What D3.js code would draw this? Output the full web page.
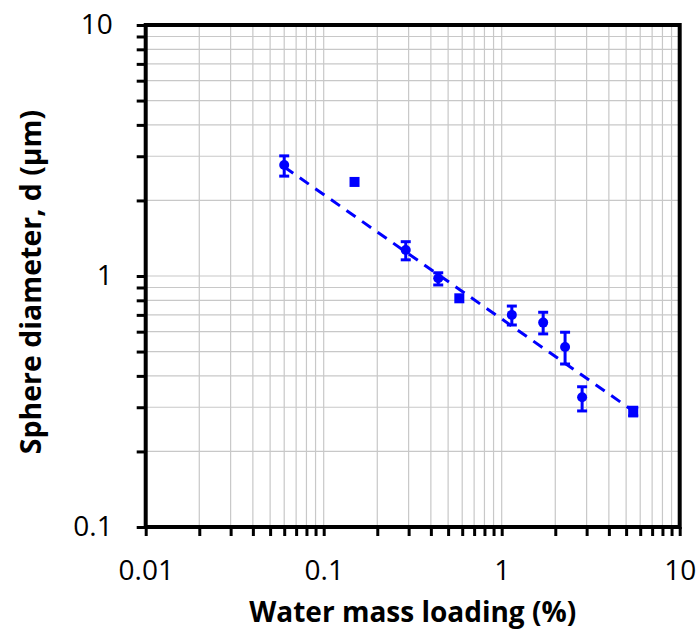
<!DOCTYPE html>
<html>
<head>
<meta charset="utf-8">
<script src="https://cdn.jsdelivr.net/npm/d3@7"></script>
<style>
  body { margin: 0; background: #fff; }
  svg text { font-family: "Open Sans", sans-serif; fill: #000; }
</style>
</head>
<body>
<svg id="chart" width="699" height="636"></svg>
<script>
// data
const loading  = [0.06, 0.149, 0.289, 0.44, 0.578, 1.14, 1.71, 2.27, 2.83, 5.48];
const diameter = [2.77, 2.37, 1.27, 0.979, 0.815, 0.70, 0.652, 0.521, 0.329, 0.288];
const errLow   = [2.50, null, 1.16, 0.921, null, 0.638, 0.588, 0.446, 0.290, 0.277];
const errHigh  = [3.01, null, 1.37, 1.03, null, 0.759, 0.717, 0.597, 0.362, 0.300];
const shapes   = ['circle','square','circle','circle','square','circle','circle','circle','circle','square'];
// dashed power-law trend, its two ends
const trendX = [0.06, 5.48];
const trendY = [2.72, 0.29];

const xDomain = [0.01, 10];
const yDomain = [0.1, 10];

const points = loading.map((x,i)=>({x, y:diameter[i], lo:errLow[i], hi:errHigh[i], shape:shapes[i]}));

const svg = d3.select('#chart');
const m = {l:145.7, r:679.7, t:25, b:527};
const x = d3.scaleLog().domain(xDomain).range([m.l, m.r]);
const y = d3.scaleLog().domain(yDomain).range([m.b, m.t]);
const blue = '#0000ff';

const isPow = d => Math.abs(Math.log10(d) - Math.round(Math.log10(d))) < 1e-9;
const fmt = d => isPow(d) ? d3.format('~g')(d) : '';

// grid
const grid = svg.append('g').attr('stroke','#c8c8c8').attr('stroke-width',1.2);
grid.selectAll('line.v').data(x.ticks()).enter().append('line')
  .attr('x1',d=>x(d)).attr('x2',d=>x(d))
  .attr('y1',m.t).attr('y2',m.b);
grid.selectAll('line.h').data(y.ticks()).enter().append('line')
  .attr('y1',d=>y(d)).attr('y2',d=>y(d))
  .attr('x1',m.l).attr('x2',m.r);

// trend line
svg.append('path')
  .datum(trendX.map((v,i)=>[v,trendY[i]]))
  .attr('d', d3.line().x(d=>x(d[0])).y(d=>y(d[1])))
  .attr('fill','none').attr('stroke',blue)
  .attr('stroke-width',3).attr('stroke-dasharray','11,8');

// error bars
const eb = svg.append('g').attr('stroke',blue).attr('stroke-width',3);
const withErr = points.filter(d=>d.lo!=null);
eb.selectAll('line.bar').data(withErr).enter().append('line')
  .attr('x1',d=>x(d.x)).attr('x2',d=>x(d.x))
  .attr('y1',d=>y(d.lo)).attr('y2',d=>y(d.hi));
eb.selectAll('line.capl').data(withErr).enter().append('line')
  .attr('x1',d=>x(d.x)-5).attr('x2',d=>x(d.x)+5)
  .attr('y1',d=>y(d.lo)).attr('y2',d=>y(d.lo));
eb.selectAll('line.caph').data(withErr).enter().append('line')
  .attr('x1',d=>x(d.x)-5).attr('x2',d=>x(d.x)+5)
  .attr('y1',d=>y(d.hi)).attr('y2',d=>y(d.hi));

// markers
svg.selectAll('circle.pt').data(points.filter(d=>d.shape==='circle')).enter().append('circle')
  .attr('cx',d=>x(d.x)).attr('cy',d=>y(d.y)).attr('r',5)
  .attr('fill',blue);
svg.selectAll('rect.pt').data(points.filter(d=>d.shape==='square')).enter().append('rect')
  .attr('x',d=>x(d.x)-5).attr('y',d=>y(d.y)-5)
  .attr('width',10).attr('height',10)
  .attr('fill',blue);

// axes
const gx = svg.append('g').attr('transform',`translate(0,${m.b})`)
  .call(d3.axisBottom(x).tickSize(9).tickSizeOuter(0).tickPadding(24).tickFormat(fmt));
const gy = svg.append('g').attr('transform',`translate(${m.l},0)`)
  .call(d3.axisLeft(y).tickSize(9).tickSizeOuter(0).tickPadding(24).tickFormat(fmt));
[gx,gy].forEach(g=>{
  g.select('.domain').remove();
  g.selectAll('.tick line').attr('stroke','#000').attr('stroke-width',3);
  g.selectAll('.tick text').style('font-size','28px').style('font-family','"Open Sans", sans-serif');
});

// frame
svg.append('rect')
  .attr('x',m.l).attr('y',m.t).attr('width',m.r-m.l).attr('height',m.b-m.t)
  .attr('fill','none').attr('stroke','#000').attr('stroke-width',4);

// axis titles
svg.append('text')
  .attr('x',(m.l+m.r)/2).attr('y',622)
  .attr('text-anchor','middle')
  .style('font-size','28px').style('font-weight','bold')
  .text('Water mass loading (%)');
svg.append('text')
  .attr('transform',`translate(41,${(m.t+m.b)/2 + 6}) rotate(-90)`)
  .attr('text-anchor','middle')
  .style('font-size','28.5px').style('font-weight','bold')
  .text('Sphere diameter, d (µm)');
</script>
</body>
</html>
